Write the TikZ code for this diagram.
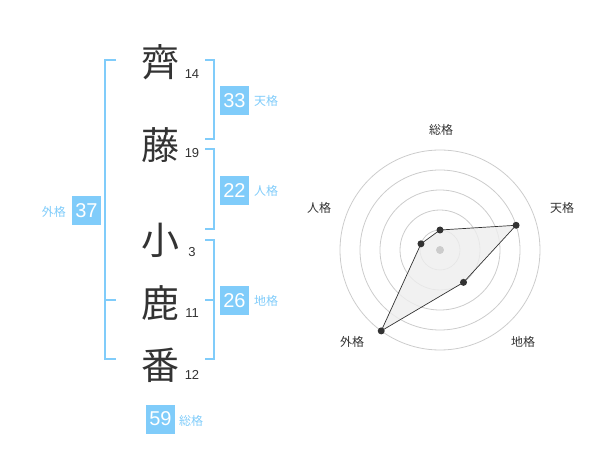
\documentclass[tikz,border=0pt]{standalone}
\usepackage{fontspec}
\usetikzlibrary{calc}
\setmainfont{Noto Sans CJK JP}
\newfontfamily\numfont{Liberation Sans}
\definecolor{sky}{RGB}{128,204,250}
\definecolor{ink}{RGB}{51,51,51}
\definecolor{ringc}{RGB}{204,204,204}
\definecolor{polyfill}{RGB}{238,238,238}
\begin{document}
\begin{tikzpicture}[x=1pt,y=-1pt,
  kanji/.style={font=\fontsize{38}{40}\selectfont, text=ink, inner sep=0},
  stroke/.style={font=\numfont\fontsize{13}{14}\selectfont, text=ink, inner sep=0},
  brk/.style={draw=sky, line width=2pt},
  valbox/.style={fill=sky, text=white, minimum width=29pt, minimum height=29pt, inner sep=0, font=\numfont\fontsize{20}{21}\selectfont},
  kaku/.style={text=sky, inner sep=0, font=\fontsize{12}{13}\selectfont},
  ring/.style={draw=ringc, line width=0.8pt},
  rlabel/.style={text=ink, inner sep=0, font=\fontsize{12}{13}\selectfont},
  dot/.style={circle, fill=ink, inner sep=0, minimum size=7pt}]
\useasboundingbox (0,0) rectangle (600,470);
% kanji
\node[kanji] (k1) at (160,62) {齊};
\node[kanji] (k2) at (160,145) {藤};
\node[kanji] (k3) at (160,240) {小};
\node[kanji] (k4) at (160,303) {鹿};
\node[kanji] (k5) at (160,365) {番};
\node[stroke] (s1) at (192,74) {14};
\node[stroke] (s2) at (192,153) {19};
\node[stroke] (s3) at (192,252) {3};
\node[stroke] (s4) at (192,313) {11};
\node[stroke] (s5) at (192,375) {12};
% brackets
\draw[brk] (116,60) -- (105,60) -- (105,359) -- (116,359);
\draw[brk] (105,300) -- (116,300);
\draw[brk] (205,60) -- (214,60) -- (214,139) -- (205,139);
\draw[brk] (205,149) -- (214,149) -- (214,229) -- (205,229);
\draw[brk] (205,240) -- (214,240) -- (214,359) -- (205,359);
\draw[brk] (205,300) -- (214,300);
% values
\node[valbox] (v1) at (234.5,100.5) {33};
\node[kaku, anchor=west] (l1) at (254,101) {天格};
\node[valbox] (v2) at (234.5,190.5) {22};
\node[kaku, anchor=west] (l2) at (254,191) {人格};
\node[valbox] (v3) at (234.5,300.5) {26};
\node[kaku, anchor=west] (l3) at (254,301) {地格};
\node[valbox] (v4) at (86.5,211) {37};
\node[kaku, anchor=east] (l4) at (66,212) {外格};
\node[valbox] (v5) at (160.5,419) {59};
\node[kaku, anchor=west] (l5) at (179,421) {総格};
% radar
\coordinate (c) at (440,250);
\foreach \r in {20,40,60,80,100} \draw[ring] (c) circle (\r);
\coordinate (pS) at ($(c)+(0,-20)$);
\coordinate (pT) at ($(c)+({80*cos(18)},{-80*sin(18)})$);
\coordinate (pC) at ($(c)+({40*cos(54)},{40*sin(54)})$);
\coordinate (pG) at ($(c)+({-100*cos(54)},{100*sin(54)})$);
\coordinate (pJ) at ($(c)+({-20*cos(18)},{-20*sin(18)})$);
\filldraw[fill=polyfill, fill opacity=0.8, draw=ink, line width=0.7pt] (pS) -- (pT) -- (pC) -- (pG) -- (pJ) -- cycle;
\fill[ringc] (c) circle (4);
\foreach \p in {pS,pT,pC,pG,pJ} \node[dot] at (\p) {};
\node[rlabel] (r1) at (441,130) {総格};
\node[rlabel] (r2) at (562,208) {天格};
\node[rlabel] (r3) at (319,208) {人格};
\node[rlabel] (r4) at (352,342) {外格};
\node[rlabel] (r5) at (523,342) {地格};
\end{tikzpicture}
\end{document}
